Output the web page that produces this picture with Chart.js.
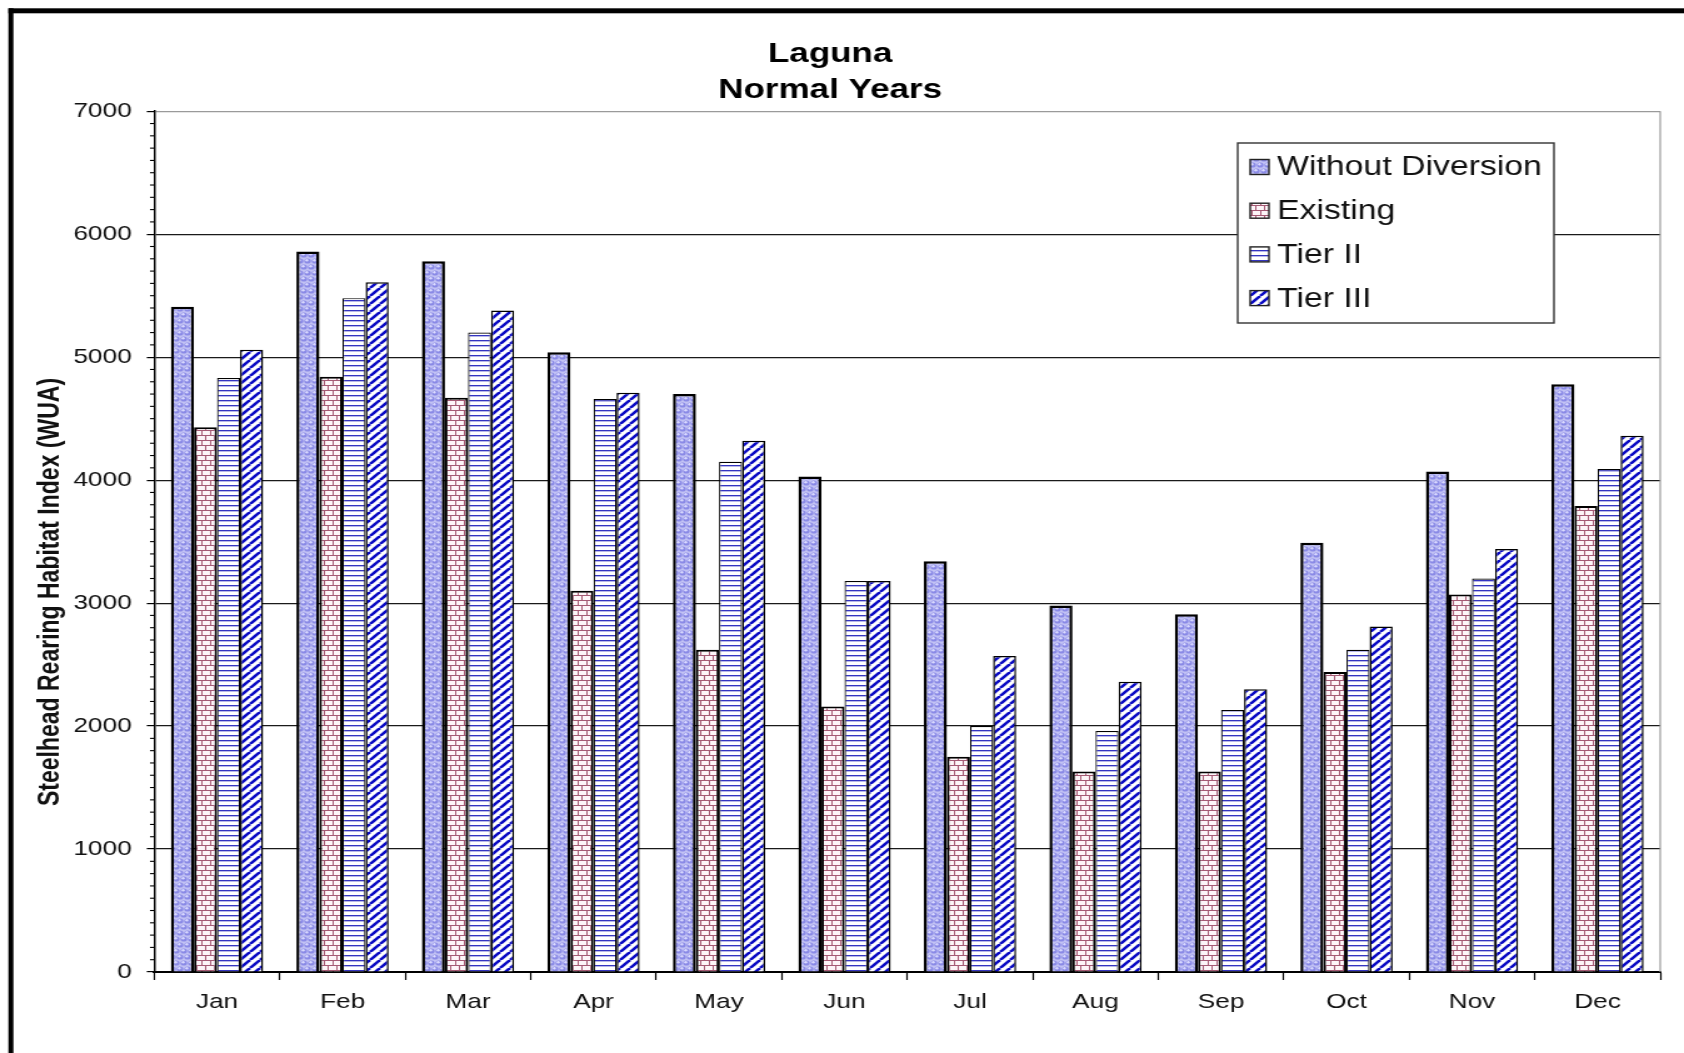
<!DOCTYPE html>
<html>
<head>
<meta charset="utf-8">
<title>Laguna - Normal Years</title>
<script src="https://cdn.jsdelivr.net/npm/chart.js@4.4.1/dist/chart.umd.min.js"></script>
<style>
  html, body { margin: 0; padding: 0; background: #fff; overflow: hidden; }
  #laguna { display: block; }
</style>
</head>
<body>
<!-- the original picture is stretched sideways, so the canvas is drawn narrow and widened by css -->
<canvas id="laguna" width="1347" height="1053" style="width:1684px;height:1053px"></canvas>
<script>
// --- DATA ---
const months = ['Jan', 'Feb', 'Mar', 'Apr', 'May', 'Jun', 'Jul', 'Aug', 'Sep', 'Oct', 'Nov', 'Dec'];
const seriesNames = ['Without Diversion', 'Existing', 'Tier II', 'Tier III'];
const withoutDiversion = [5410, 5860, 5780, 5040, 4700, 4030, 3340, 2980, 2910, 3490, 4070, 4780];
const existing = [4430, 4840, 4670, 3100, 2620, 2160, 1750, 1630, 1630, 2440, 3070, 3790];
const tierII = [4830, 5480, 5200, 4660, 4150, 3180, 2000, 1960, 2130, 2620, 3200, 4090];
const tierIII = [5060, 5610, 5380, 4710, 4320, 3180, 2570, 2360, 2300, 2810, 3440, 4360];
const yMax = 7000;
const yStep = 1000;
const yMinorStep = 100;
const yTitle = 'Steelhead Rearing Habitat Index (WUA)';

const FONT = "'Liberation Sans', Arial, sans-serif";
const canvas = document.getElementById('laguna');
const ctx = canvas.getContext('2d');

// --- PATTERNS ---
function makePattern(w, h, paint) {
    const tile = document.createElement('canvas');
    tile.width = w;
    tile.height = h;
    paint(tile.getContext('2d'), w, h);
    return ctx.createPattern(tile, 'repeat');
}

const bubbles = makePattern(6, 12, (g, w, h) => {
    g.fillStyle = '#c2c2f4';
    g.fillRect(0, 0, w, h);
    [[3, 3], [0, 9], [6, 9]].forEach(([x, y]) => {
        g.beginPath();
        g.arc(x, y, 2.6, 0, Math.PI * 2);
        g.fillStyle = '#8a8ae6';
        g.fill();
        g.beginPath();
        g.arc(x - 0.5, y - 0.7, 1.2, 0, Math.PI * 2);
        g.fillStyle = '#dcdcff';
        g.fill();
    });
});

const bricks = makePattern(7, 10, (g, w, h) => {
    g.fillStyle = '#fdf5f8';
    g.fillRect(0, 0, w, h);
    g.fillStyle = '#a55a74';
    g.fillRect(0, 0, w, 1);
    g.fillRect(0, 5, w, 1);
    g.fillRect(0, 0, 1, 5);
    g.fillRect(3, 5, 1, 5);
});

const hLines = makePattern(4, 5, (g, w, h) => {
    g.fillStyle = '#ffffff';
    g.fillRect(0, 0, w, h);
    g.fillStyle = '#3434c0';
    g.fillRect(0, 0, w, 1);
    g.fillStyle = 'rgba(52, 52, 192, 0.35)';
    g.fillRect(0, 1, w, 1);
});

const diagonals = makePattern(8, 8, (g, w, h) => {
    g.fillStyle = '#ffffff';
    g.fillRect(0, 0, w, h);
    g.strokeStyle = '#0a0ac4';
    g.lineWidth = 2.6;
    for (let k = -1; k <= 1; k++) {
        g.beginPath();
        g.moveTo(k * w, h);
        g.lineTo(k * w + w, 0);
        g.stroke();
    }
});

// --- PLUGIN: frame, plot border, minor ticks, axis title, legend box ---
const decorations = {
    id: 'decorations',
    beforeDraw(chart) {
        const c = chart.ctx;
        c.save();
        c.fillStyle = '#ffffff';
        c.fillRect(0, 0, chart.width, chart.height);
        c.fillStyle = '#000000';
        c.fillRect(6.7, 8.3, 4, chart.height);
        c.fillRect(6.7, 8.3, chart.width, 5);
        c.restore();
    },
    afterDraw(chart) {
        const c = chart.ctx;
        const area = chart.chartArea;
        const y = chart.scales.y;
        c.save();

        // gray border on the right of the plot
        c.strokeStyle = '#9a9a9a';
        c.lineWidth = 1.2;
        c.beginPath();
        c.moveTo(area.right, area.top);
        c.lineTo(area.right, area.bottom);
        c.stroke();

        // minor ticks on the value axis
        c.strokeStyle = '#000000';
        c.lineWidth = 1.1;
        for (let v = yMinorStep; v < yMax; v += yMinorStep) {
            if (v % yStep === 0) continue;
            const py = y.getPixelForValue(v);
            c.beginPath();
            c.moveTo(area.left - 3.4, py);
            c.lineTo(area.left, py);
            c.stroke();
        }

        // value axis title (sits lower than the axis middle in the original)
        c.save();
        c.translate(40.5, 592);
        c.rotate(-Math.PI / 2);
        c.font = `bold 23px ${FONT}`;
        c.fillStyle = '#111111';
        c.textAlign = 'center';
        c.textBaseline = 'middle';
        c.fillText(yTitle, 0, 0);
        c.restore();

        // legend
        const box = { x: 990, y: 143, w: 253, h: 180 };
        c.fillStyle = '#ffffff';
        c.fillRect(box.x, box.y, box.w, box.h);
        c.strokeStyle = '#333333';
        c.lineWidth = 1.4;
        c.strokeRect(box.x, box.y, box.w, box.h);
        c.font = `27px ${FONT}`;
        c.textBaseline = 'middle';
        c.textAlign = 'left';
        chart.data.datasets.forEach((ds, i) => {
            const cy = 167 + i * 43.7;
            c.fillStyle = ds.backgroundColor;
            c.fillRect(1000, cy - 7.5, 15, 15);
            c.strokeStyle = '#222222';
            c.lineWidth = 1.4;
            c.strokeRect(1000, cy - 7.5, 15, 15);
            c.fillStyle = '#111111';
            c.fillText(ds.label, 1021.6, cy + 1);
        });
        c.restore();
    }
};

// --- CHART ---
new Chart(ctx, {
    type: 'bar',
    data: {
        labels: months,
        datasets: [
            { label: seriesNames[0], data: withoutDiversion, backgroundColor: bubbles, borderColor: '#000', borderWidth: 2.5 },
            { label: seriesNames[1], data: existing, backgroundColor: bricks, borderColor: '#000', borderWidth: 2 },
            { label: seriesNames[2], data: tierII, backgroundColor: hLines, borderColor: '#000', borderWidth: 1.2 },
            { label: seriesNames[3], data: tierIII, backgroundColor: diagonals, borderColor: '#000', borderWidth: 1.5 }
        ]
    },
    options: {
        responsive: false,
        animation: false,
        devicePixelRatio: 1,
        categoryPercentage: 0.735,
        barPercentage: 1,
        layout: { padding: { top: 0, left: 0, right: 19, bottom: 0 } },
        plugins: {
            legend: { display: false },
            tooltip: { enabled: false },
            title: {
                display: true,
                text: ['Laguna', 'Normal Years'],
                color: '#000',
                font: { family: FONT, size: 28, weight: 'bold', lineHeight: 1.29 },
                padding: { top: 36, bottom: 3 }
            }
        },
        scales: {
            x: {
                grid: { offset: true, drawOnChartArea: false, drawTicks: true, tickLength: 8, tickColor: '#000', tickWidth: 1.2 },
                border: { color: '#000', width: 2 },
                ticks: { font: { family: FONT, size: 21 }, color: '#111', padding: 10 },
                afterFit: (scale) => { scale.height = 81; }
            },
            y: {
                min: 0,
                max: yMax,
                ticks: {
                    stepSize: yStep,
                    font: { family: FONT, size: 21 },
                    color: '#111',
                    padding: 12,
                    callback: (value) => String(value)
                },
                grid: {
                    color: (c) => (c.tick && c.tick.value === yMax ? '#9a9a9a' : '#1a1a1a'),
                    lineWidth: 1.2,
                    tickLength: 6,
                    tickColor: '#000',
                    tickWidth: 1.2
                },
                border: { color: '#000', width: 1.5 },
                afterFit: (scale) => { scale.width = 123.4; }
            }
        }
    },
    plugins: [decorations]
});
</script>
</body>
</html>
